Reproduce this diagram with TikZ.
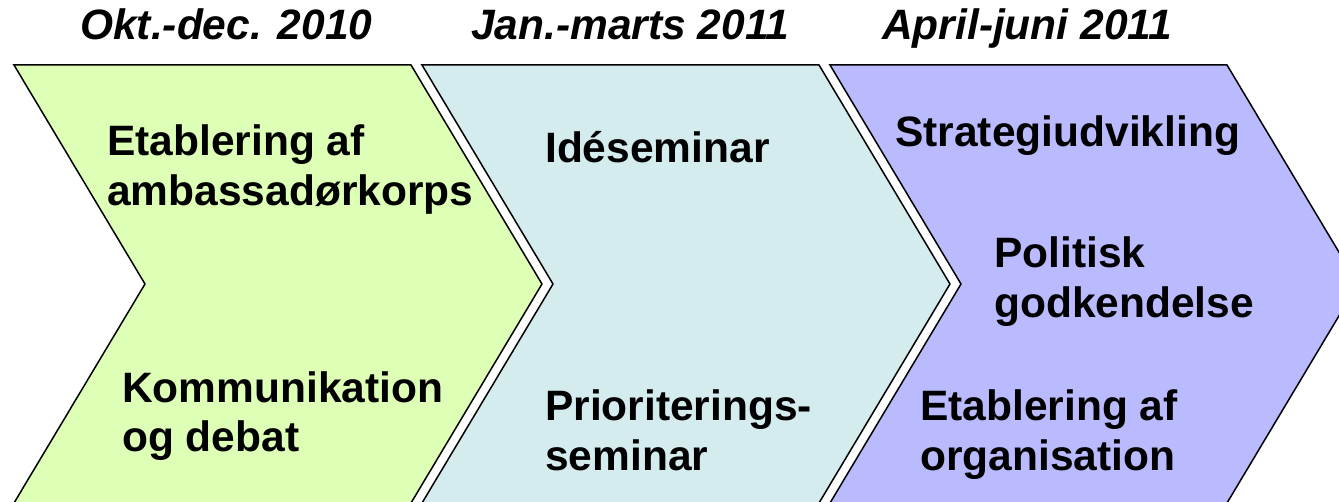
\documentclass[tikz,border=0pt]{standalone}
\usepackage{fontspec}
\setmainfont{Liberation Sans}
\usetikzlibrary{positioning}
\definecolor{phaseA}{RGB}{221,255,182}
\definecolor{phaseB}{RGB}{212,236,238}
\definecolor{phaseC}{RGB}{186,186,255}

\begin{document}
\begin{tikzpicture}[x=1pt, y=-1pt,
		phase/.style={draw=black, line width=1.5pt, line join=miter},
		task/.style={font=\bfseries\fontsize{42.5}{50}\selectfont, align=left, inner sep=0pt, anchor=base west},
		period/.style={font=\bfseries\itshape\fontsize{42.5}{50}\selectfont, inner sep=0pt, anchor=base west}]
		% Picture frame
		\clip (0,0) rectangle (1339,502);

		% Draw the three chevrons
		\foreach \x/\col in {14/phaseA, 422/phaseB, 830/phaseC} {
				\filldraw[phase, fill=\col] (\x,65) -- ++(397,0) -- ++(131,219) -- ++(-131,219)
					-- ++(-397,0) -- ++(131,-219) -- cycle;
			}

		% Periods above the chevrons
		\node[period] (oktdec) at (80,40) {Okt.-dec. 2010};
		\node[period] (janmar) at (471,40) {Jan.-marts 2011};
		\node[period] (aprjun) at (882,40) {April-juni 2011};

		% Tasks in each period (base = last line)
		\node[task] (ambass) at (107,206) {Etablering af\\ambassadørkorps};
		\node[task] (kommun) at (122,452) {Kommunikation\\og debat};
		\node[task] (idesem) at (545,163) {Idéseminar};
		\node[task] (priori) at (545,470) {Prioriterings-\\seminar};
		\node[task] (strate) at (895,147) {Strategiudvikling};
		\node[task] (politi) at (994,318) {Politisk\\godkendelse};
		\node[task] (organi) at (920,470) {Etablering af\\organisation};
	\end{tikzpicture}
\end{document}
